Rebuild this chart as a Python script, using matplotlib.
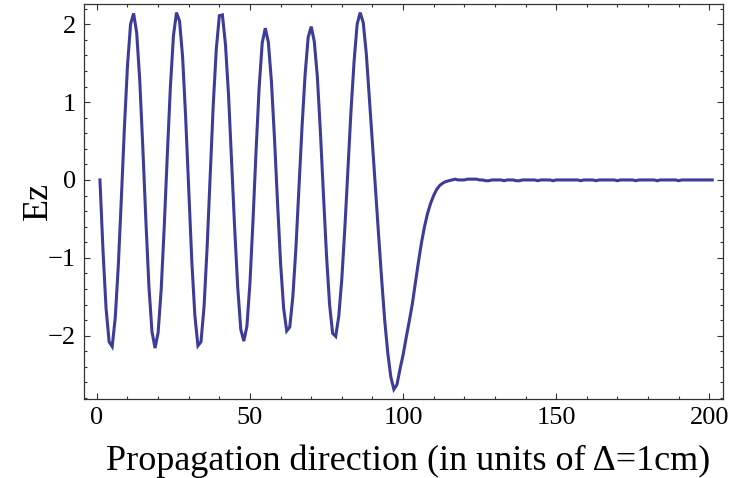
import numpy as np
import matplotlib
matplotlib.use('Agg')
import matplotlib.pyplot as plt
from matplotlib.ticker import MultipleLocator

plt.rcParams['font.family'] = ['Liberation Serif', 'DejaVu Serif']

# Ez field sampled at each grid cell (cell index starts at 1)
ez_wave = [
    0.00, -0.91, -1.65, -2.08, -2.14, -1.77, -1.10, -0.23, 0.68, 1.47,
    2.00, 2.14, 1.89, 1.28, 0.42, -0.52, -1.37, -1.95, -2.16, -1.96,
    -1.41, -0.60, 0.32, 1.19, 1.85, 2.15, 2.04, 1.58, 0.80, -0.13,
    -1.04, -1.74, -2.13, -2.08, -1.63, -0.87, 0.05, 0.96, 1.68, 2.11,
    2.12, 1.74, 1.09, 0.25, -0.62, -1.38, -1.92, -2.07, -1.88, -1.32,
    -0.51, 0.38, 1.19, 1.76, 1.95, 1.77, 1.27, 0.54, -0.29, -1.07,
    -1.65, -1.94, -1.89, -1.50, -0.88, -0.11, 0.68, 1.35, 1.83, 1.97,
    1.78, 1.33, 0.62, -0.19, -0.97, -1.60, -1.97, -2.01, -1.75, -1.27,
    -0.61, 0.15, 0.89, 1.52, 2.00, 2.15, 2.02, 1.62, 1.05, 0.47,
    -0.12, -0.70, -1.27, -1.80, -2.22, -2.53, -2.69, -2.63, -2.43, -2.25,
    -2.03, -1.82, -1.60, -1.33, -1.06, -0.81, -0.60, -0.43, -0.30, -0.20,
    -0.12, -0.07, -0.04, -0.02, -0.01, 0.00, 0.01, 0.00,
]
ez_tail = [
    0.00, 0.00, 0.01, 0.01, 0.01, 0.01, 0.00, 0.00, -0.01, -0.01,
    0.00, 0.00, 0.00, 0.00, -0.01, 0.00, 0.00, 0.00, -0.01, -0.01,
    0.00, 0.00, 0.00, 0.00, 0.00, -0.01, 0.00, 0.00, 0.00, 0.00,
    -0.01, 0.00, 0.00, 0.00, 0.00, 0.00, 0.00, 0.00, 0.00, -0.01,
    0.00, 0.00, 0.00, 0.00, -0.01, 0.00, 0.00, 0.00, 0.00, 0.00,
    0.00, -0.01, 0.00, 0.00, 0.00, 0.00, 0.00, -0.01, 0.00, 0.00,
    0.00, 0.00, 0.00, 0.00, -0.01, 0.00, 0.00, 0.00, 0.00, 0.00,
    0.00, -0.01, 0.00, 0.00, 0.00, 0.00, 0.00, 0.00, 0.00, 0.00,
    0.00, 0.00, 0.00,
]
ez = ez_wave + ez_tail
cells = np.arange(1, len(ez) + 1)

fig = plt.figure(figsize=(7.3, 4.78), dpi=100)
ax = fig.add_axes([0.1151, 0.1659, 0.990 - 0.1151, 0.9916 - 0.1659])

ax.plot(cells, ez, color='#3d3d99', lw=2.2, solid_joinstyle='miter')

ax.set_xlim(-4.2, 204.4)
ax.set_ylim(-2.81, 2.26)

ax.xaxis.set_major_locator(MultipleLocator(50))
ax.xaxis.set_minor_locator(MultipleLocator(10))
ax.yaxis.set_major_locator(MultipleLocator(1))
ax.yaxis.set_minor_locator(MultipleLocator(0.2))
ax.tick_params(which='both', direction='in', top=True, right=True,
               color='#333333', width=0.8)
ax.tick_params(which='major', length=4.5, labelsize=19, pad=6)
ax.tick_params(which='minor', length=2.3)
for s in ax.spines.values():
    s.set_color('#333333')
    s.set_linewidth(0.9)

ax.set_xlabel('Propagation direction (in units of \u0394=1cm)', fontsize=26, labelpad=11)
ax.xaxis.label.set_x(0.508)
ax.set_ylabel('Ez', fontsize=26, labelpad=-5)

fig.savefig('out.png', dpi=100)
